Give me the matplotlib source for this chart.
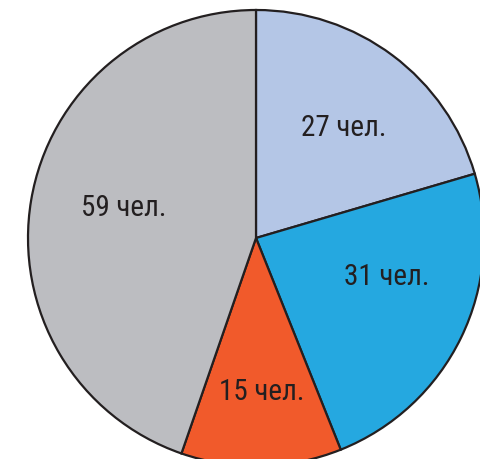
import matplotlib
matplotlib.use("Agg")
import matplotlib.pyplot as plt
from matplotlib import font_manager

values = [27, 31, 15, 59]
labels = ["27 чел.", "31 чел.", "15 чел.", "59 чел."]
colors = ["#b4c6e6", "#25a8e0", "#f15a2b", "#bcbdc1"]
label_pos = [(0.387, 0.487), (0.575, -0.167), (0.026, -0.67), (-0.58, 0.135)]

names = {f.name for f in font_manager.fontManager.ttflist}
fam = "DejaVu Sans"
for cand in ["Liberation Sans Narrow", "Roboto Condensed", "Open Sans Condensed", "Roboto"]:
    if cand in names:
        fam = cand
        break

fig = plt.figure(figsize=(4.8, 4.6), dpi=100)
ax = fig.add_axes([0, 0, 1, 1])
ax.pie(values, colors=colors, startangle=90, counterclock=False,
       radius=1.0, center=(0, 0),
       wedgeprops=dict(edgecolor="#231f20", linewidth=1.6))
for (x, y), t in zip(label_pos, labels):
    ax.text(x, y, t, ha="center", va="center", fontsize=21, family=fam,
            color="#231f20")
ax.set_xlim(-256 / 228, (480 - 256) / 228)
ax.set_ylim(-(460 - 239) / 228, 239 / 228)
ax.set_aspect("auto")
ax.axis("off")
fig.savefig("out.png", dpi=100)
